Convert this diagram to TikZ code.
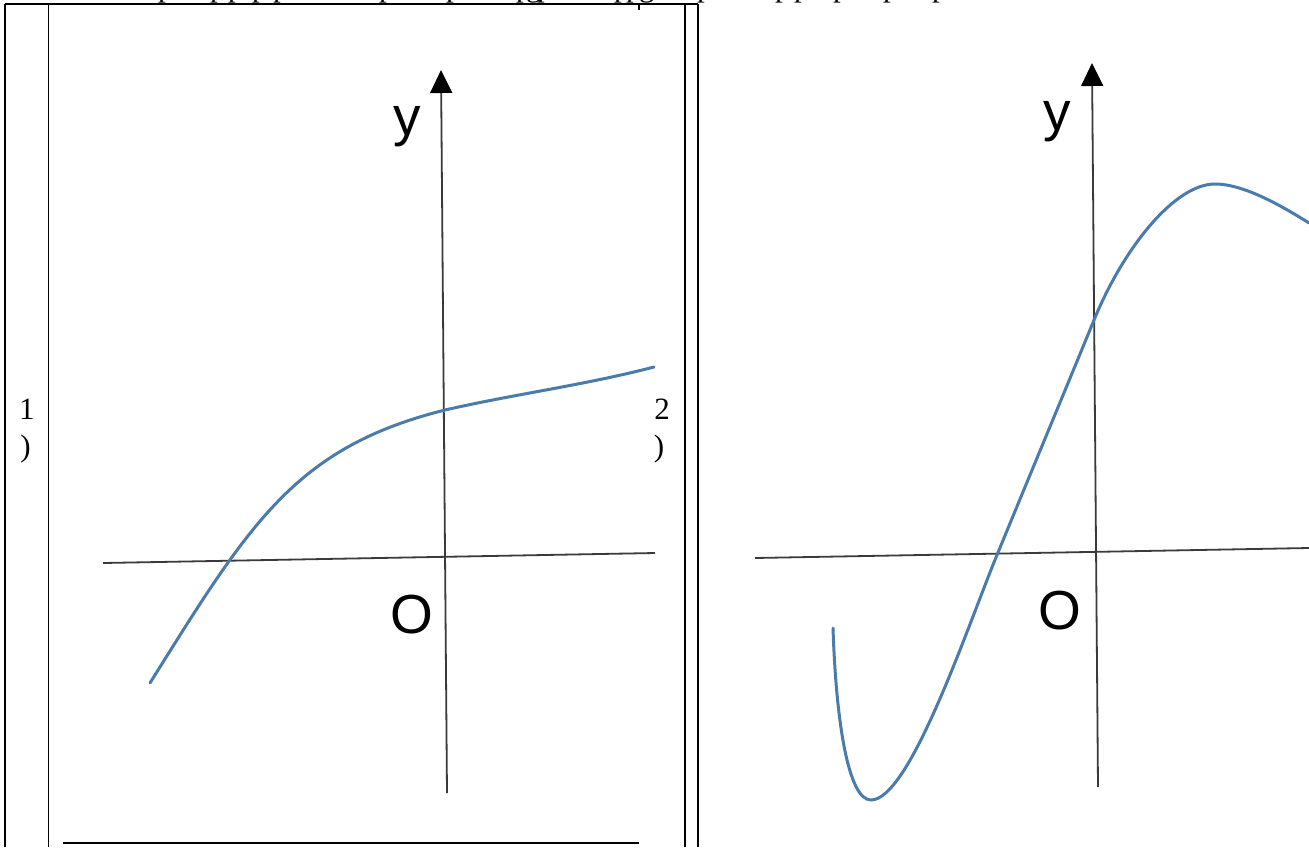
\documentclass[tikz,border=0pt]{standalone}
\usepackage{fontspec}
\setmainfont{Liberation Serif}
\newfontfamily\axisfont{Liberation Sans}
\usetikzlibrary{arrows.meta}
\definecolor{curveblue}{HTML}{4A7BAA}
\definecolor{axisgray}{HTML}{3A3A3A}
\begin{document}
\begin{tikzpicture}[x=1pt,y=-1pt,
  tableline/.style={line width=1.3pt, black},
  axisline/.style={line width=1.8pt, axisgray},
  yaxisline/.style={axisline, -{Triangle[width=22pt,length=23pt,color=black]}},
  graphline/.style={line width=3pt, curveblue, line cap=round, line join=round},
  axislabel/.style={font=\axisfont\fontsize{55}{60}\selectfont, inner sep=0pt, anchor=base},
  numlabel/.style={font=\fontsize{31}{37}\selectfont, inner sep=0pt, anchor=base},
  cuttext/.style={font=\fontsize{31}{37}\selectfont, inner sep=0pt, anchor=base west},
]
\useasboundingbox (0,0) rectangle (1309,847);

% cut-off line of text at the top
\begin{scope}
  \clip (0,0) rectangle (1309,847);
  \foreach \x/\g [count=\i] in {158/p,210/p,228/p,252/p,273/p,379/p,446/p,516/p,526/g,537/p,614/p,626/p,639/g,697/p,775/p,794/p,833/p,883/p,932/p}
    \node[cuttext] (cut\i) at (\x,-3.4) {\g};
\end{scope}

% table borders
\draw[tableline] (5,4) -- (698,4);
\draw[tableline] (5,4) -- (5,847);
\draw[tableline] (48.5,4) -- (48.5,847);
\draw[tableline] (685,4) -- (685,847);
\draw[tableline] (698,4) -- (698,847);
\draw[tableline] (639,4) -- (639,10);
\draw[tableline] (63,843) -- (639,843);

% row labels
\node[numlabel] (one) at (27,419) {1};
\node[numlabel] (oneparen) at (25.5,456) {)};
\node[numlabel] (two) at (662,419) {2};
\node[numlabel] (twoparen) at (659,456) {)};

% ---------- left graph ----------
\coordinate (Lxs) at (103,563);
\coordinate (Lxe) at (655,553);
\coordinate (Lys) at (447,793);
\coordinate (Lye) at (441,70);
\draw[axisline] (Lxs) -- (Lxe);
\draw[yaxisline] (Lys) -- (Lye);
\node[axislabel] (Ly) at (407,135.5) {y};
\node[axislabel] (LO) at (412,633) {O};
\draw[graphline] (150,683) .. controls (250,523) and (295,447.5) .. (445,410)
  .. controls (515,394) and (585,385) .. (654,367);

% ---------- right graph ----------
\coordinate (Rxs) at (755,558);
\coordinate (Rxe) at (1309,548);
\coordinate (Rys) at (1098,787);
\coordinate (Rye) at (1092,63);
\draw[axisline] (Rxs) -- (Rxe);
\draw[yaxisline] (Rys) -- (Rye);
\node[axislabel] (Ry) at (1057,130.5) {y};
\node[axislabel] (RO) at (1060,629) {O};
\draw[graphline] (833,628) .. controls (836,720) and (848,800) .. (871,800)
  .. controls (910,800) and (968,625) .. (997,555)
  .. controls (1029,477) and (1062,398) .. (1094,320)
  .. controls (1124,247) and (1175,184) .. (1215,184)
  .. controls (1245,184) and (1285,208) .. (1309,223);
\end{tikzpicture}
\end{document}
